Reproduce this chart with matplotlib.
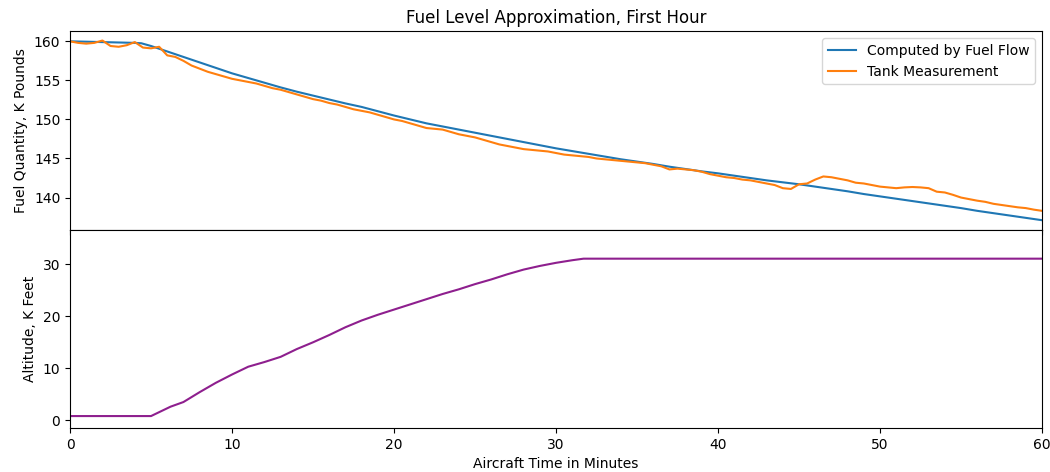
import numpy as np
import matplotlib.pyplot as plt

# Computed fuel (K lb) from integrated fuel flow, knots in minutes
calc_t = [0, 1, 2, 3, 4, 4.4, 5, 6, 7, 8, 9, 10, 11, 12, 13, 14, 15, 16, 17, 18, 19, 20,
          21, 22, 23, 24, 25, 26, 27, 28, 29, 30, 31, 32, 33, 34, 35, 36, 37, 38, 39, 40,
          41, 42, 43, 44, 45, 46, 47, 48, 49, 50, 51, 52, 53, 54, 55, 56, 57, 58, 59, 60]
calc_fuel = [160.0, 159.95, 159.9, 159.85, 159.8, 159.75, 159.4, 158.7, 158.0, 157.3, 156.6, 155.9,
             155.3, 154.7, 154.1, 153.55, 153.05, 152.55, 152.05, 151.6, 151.05, 150.5,
             150.0, 149.5, 149.1, 148.7, 148.3, 147.9, 147.5, 147.1, 146.7, 146.3,
             145.95, 145.6, 145.25, 144.9, 144.6, 144.3, 143.95, 143.65, 143.35, 143.1,
             142.8, 142.5, 142.2, 141.95, 141.7, 141.4, 141.1, 140.8, 140.45, 140.15,
             139.85, 139.55, 139.25, 138.95, 138.65, 138.3, 138.0, 137.7, 137.4, 137.1]

# Tank gauge readings (K lb), every half minute
tank_t = np.arange(0, 60.5, 0.5)
tank_fuel = [160.0, 159.8, 159.7, 159.8, 160.1, 159.4, 159.3, 159.5, 159.9, 159.2,
             159.1, 159.3, 158.2, 158.0, 157.5, 156.9, 156.5, 156.1, 155.8, 155.5,
             155.2, 155.0, 154.8, 154.6, 154.3, 154.0, 153.8, 153.5, 153.2, 152.9,
             152.6, 152.4, 152.1, 151.9, 151.6, 151.3, 151.1, 150.9, 150.6, 150.3,
             150.0, 149.8, 149.5, 149.2, 148.9, 148.8, 148.7, 148.4, 148.1, 147.9,
             147.7, 147.4, 147.1, 146.8, 146.6, 146.4, 146.2, 146.1, 146.0, 145.9,
             145.7, 145.5, 145.4, 145.3, 145.2, 145.0, 144.9, 144.8, 144.7, 144.6,
             144.5, 144.4, 144.2, 144.0, 143.6, 143.7, 143.6, 143.5, 143.3, 143.0,
             142.8, 142.6, 142.5, 142.3, 142.2, 142.0, 141.8, 141.6, 141.2, 141.1,
             141.7, 141.8, 142.3, 142.7, 142.6, 142.4, 142.2, 141.9, 141.8, 141.6,
             141.4, 141.3, 141.2, 141.3, 141.35, 141.3, 141.2, 140.75, 140.65, 140.35,
             140.0, 139.8, 139.6, 139.45, 139.2, 139.05, 138.9, 138.75, 138.65, 138.45,
             138.3]

# Pressure altitude (K ft)
alt_t = [0, 5, 6, 6.2, 7, 8, 9, 10, 11, 12, 13, 14, 15, 16, 17, 18, 19, 20, 21, 22, 23, 24,
         25, 26, 27, 28, 29, 30, 31, 31.7, 60]
alt_kft = [0.8, 0.8, 2.3, 2.6, 3.5, 5.4, 7.2, 8.8, 10.3, 11.2, 12.2, 13.7, 15.0, 16.4, 17.9,
           19.2, 20.3, 21.3, 22.3, 23.3, 24.3, 25.2, 26.2, 27.1, 28.1, 29.0, 29.7, 30.3,
           30.8, 31.1, 31.1]

fig, (ax1, ax2) = plt.subplots(2, 1, sharex=True, figsize=(10.5, 4.72), dpi=100)
fig.subplots_adjust(left=0.0667, right=0.9924, top=0.934, bottom=0.0932, hspace=0)

ax1.plot(calc_t, calc_fuel, color='#1f77b4', lw=1.5, label='Computed by Fuel Flow')
ax1.plot(tank_t, tank_fuel, color='#ff7f0e', lw=1.5, label='Tank Measurement')
ax1.set_ylabel('Fuel Quantity, K Pounds')
ax1.set_title('Fuel Level Approximation, First Hour')
ax1.legend(loc='upper right')
ax1.set_ylim(135.9, 161.3)

ax2.plot(alt_t, alt_kft, color='#8e1f8e', lw=1.5)
ax2.set_ylabel('Altitude, K Feet')
ax2.set_ylim(-1.5, 36.7)
ax2.set_xlabel('Aircraft Time in Minutes')
ax2.set_xlim(0, 60)

plt.savefig('out.png', dpi=100)
